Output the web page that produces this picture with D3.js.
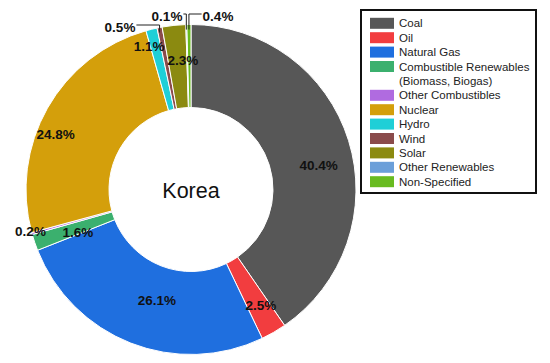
<!DOCTYPE html>
<html>
<head>
<meta charset="utf-8">
<script src="https://cdn.jsdelivr.net/npm/d3@7"></script>
<style>
  html, body { margin: 0; padding: 0; background: #fff; }
  svg { display: block; font-family: "Liberation Sans", Arial, sans-serif; }
</style>
</head>
<body>
<svg id="chart" width="550" height="363"></svg>
<script>
// ---- data ----
const categories = ["Coal", "Oil", "Natural Gas", "Combustible Renewables\n(Biomass, Biogas)",
  "Other Combustibles", "Nuclear", "Hydro", "Wind", "Solar", "Other Renewables", "Non-Specified"];
const values = [40.4, 2.5, 26.1, 1.6, 0.2, 24.8, 1.1, 0.5, 2.3, 0.1, 0.4];
const colors = ["#575757", "#f23d3f", "#1f6fdf", "#3bb06e", "#b06be0", "#d49f0b",
  "#1fcfd7", "#8a4b4b", "#8b8a10", "#6b9fd9", "#68bb20"];
const centerLabel = "Korea";

// ---- label placement (styling / layout, not data) ----
// [radius, angle offset in degrees] for inline labels; null -> leader label
const labelPolar = [[130, 6.5], [135, -1.1], [116, -4.3], [121, -1.9], [166, 0.7],
  [146, -7.5], [149, -2.5], null, [129, 2.3], null, null];
// leader labels: text centre position and side
const leaderLabels = {
  7: { x: 120, y: 27, anchor: "end", lineY: 25 },
  9: { x: 167, y: 16, anchor: "end", lineY: 14 },
  10: { x: 218, y: 16, anchor: "start", lineY: 14 }
};

const svg = d3.select("#chart");
const cx = 191, cy = 189.5, outerR = 165, innerR = 82;

const pie = d3.pie().sort(null).value(d => d)(values);
const arc = d3.arc().innerRadius(innerR).outerRadius(outerR);

const g = svg.append("g").attr("transform", `translate(${cx},${cy})`);

g.selectAll("path.slice")
  .data(pie)
  .join("path")
  .attr("class", "slice")
  .attr("d", arc)
  .attr("fill", (d, i) => colors[i])
  .attr("stroke", "#fff")
  .attr("stroke-width", 1);

g.append("text")
  .attr("x", 0).attr("y", 8)
  .attr("text-anchor", "middle")
  .attr("font-size", 21.5)
  .attr("fill", "#111")
  .text(centerLabel);

const fmt = v => v.toFixed(1) + "%";
const labelSize = 13.5;

pie.forEach((d, i) => {
  const mid = (d.startAngle + d.endAngle) / 2;
  const p = labelPolar[i];
  if (p) {
    const a = mid + p[1] * Math.PI / 180;
    g.append("text")
      .attr("x", p[0] * Math.sin(a))
      .attr("y", -p[0] * Math.cos(a))
      .attr("text-anchor", "middle")
      .attr("dominant-baseline", "central")
      .attr("font-size", labelSize)
      .attr("font-weight", "bold")
      .attr("fill", "#111")
      .text(fmt(values[i]));
  } else {
    const L = leaderLabels[i];
    const ex = outerR * Math.sin(mid), ey = -outerR * Math.cos(mid);
    const lx = L.x - cx, ly = L.lineY - cy;
    const txt = g.append("text")
      .attr("x", lx)
      .attr("y", L.y - cy)
      .attr("text-anchor", "middle")
      .attr("dominant-baseline", "central")
      .attr("font-size", labelSize)
      .attr("font-weight", "bold")
      .attr("fill", "#111")
      .text(fmt(values[i]));
    const w = txt.node().getComputedTextLength();
    const startX = L.anchor === "end" ? lx + w / 2 + 1 : lx - w / 2 - 1;
    g.append("polyline")
      .attr("points", [[startX, ly], [ex, ly], [ex, ey + 5]].map(q => q.join(",")).join(" "))
      .attr("fill", "none")
      .attr("stroke", "#222")
      .attr("stroke-width", 1);
  }
});

// ---- legend ----
const legend = svg.append("g");
legend.append("rect")
  .attr("x", 361).attr("y", 10)
  .attr("width", 175).attr("height", 183)
  .attr("fill", "#fff")
  .attr("stroke", "#111")
  .attr("stroke-width", 2);

let row = 0;
categories.forEach((c, i) => {
  const lines = c.split("\n");
  const y = 23.3 + row * 14.4;
  legend.append("rect")
    .attr("x", 370).attr("y", y - 5.5)
    .attr("width", 24).attr("height", 11)
    .attr("fill", colors[i]);
  lines.forEach((ln, k) => {
    legend.append("text")
      .attr("x", 399).attr("y", y + k * 14.4)
      .attr("dominant-baseline", "central")
      .attr("font-size", 11.5)
      .attr("fill", "#222")
      .text(ln);
  });
  row += lines.length;
});
</script>
</body>
</html>
